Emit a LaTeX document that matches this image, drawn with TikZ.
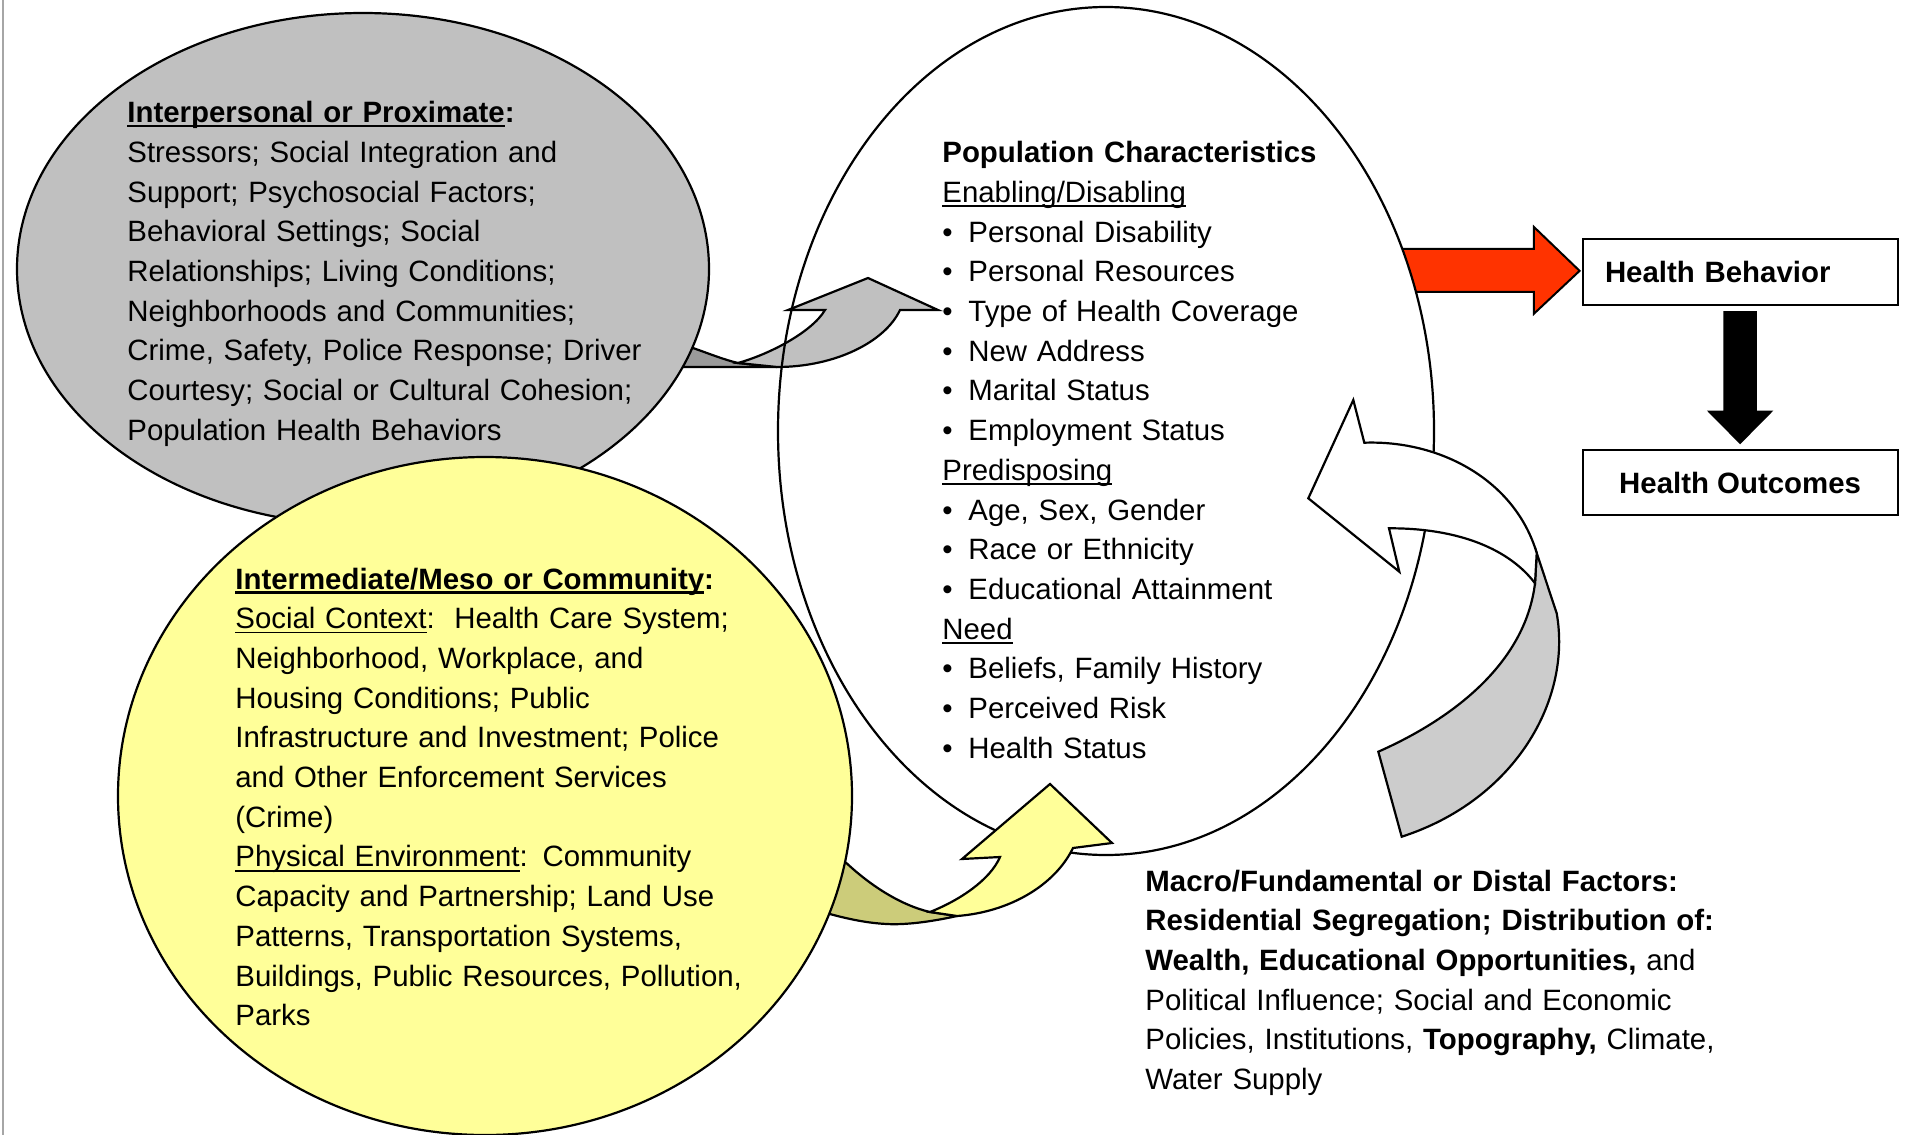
\documentclass[tikz,border=0pt]{standalone}
\usepackage{fontspec}
\setmainfont{Liberation Sans}
\usetikzlibrary{calc}

\definecolor{grayfill}{HTML}{C0C0C0}
\definecolor{grayshade}{HTML}{9A9A9A}
\definecolor{yellowfill}{HTML}{FFFF99}
\definecolor{yellowshade}{HTML}{CCCC7A}
\definecolor{whiteshade}{HTML}{CCCCCC}
\definecolor{arrowred}{HTML}{FF3300}

% underline drawn close to the baseline, through descenders
\newsavebox\ulwordbox
\newcommand\ulword[2][0.8pt]{\leavevmode\sbox\ulwordbox{#2}\rlap{\rule[-2.3pt]{\wd\ulwordbox}{#1}}\usebox\ulwordbox}
\newcommand\bul{\makebox[13pt][l]{•}}

\begin{document}
\begin{tikzpicture}[x=0.5pt,y=-0.5pt,
  outline/.style={draw=black,line width=1.1pt},
  txt/.style={anchor=base west,inner sep=0pt,text width=300pt,align=left,
              font=\fontsize{14.7}{19.85}\selectfont},
  box/.style={draw=black,line width=1pt,inner sep=0pt,
              font=\fontsize{14.7}{17}\selectfont\bfseries},
  blockarrow/.style={draw=black,line width=1pt,line join=miter}]
\useasboundingbox (0,0) rectangle (1917,1135);

% thin frame line on the left
\draw[black!35,line width=0.6pt] (3,0) -- (3,1135);

% boxes on the right
\node[box,minimum width=157.5pt,minimum height=33.25pt,text width=135.1pt,
      inner xsep=11.2pt,align=left] (hb) at (1740.1,271.85) {Health Behavior};
\node[box,minimum width=157.5pt,minimum height=32.5pt] (ho) at (1740.1,482.75) {Health Outcomes};

% red block arrow into Health Behavior (its tail sits behind the ellipse)
\coordinate (rt) at ($(hb.west)+(-2,-1)$);
\draw[blockarrow,fill=arrowred] ($(rt)+(-195,-22)$) -- ($(rt)+(-45.8,-22)$) -- ($(rt)+(-45.8,-44)$)
  -- (rt) -- ($(rt)+(-45.8,43)$) -- ($(rt)+(-45.8,21)$) -- ($(rt)+(-195,21)$) -- cycle;

% black block arrow from behavior to outcomes
\fill[black] ($(hb.south)+(-16.8,5)$) -- ($(hb.south)+(16.8,5)$) -- ($(ho.north)+(16.8,-38.6)$)
  -- ($(ho.north)+(33.2,-38.6)$) -- ($(ho.north)+(0,-5)$) -- ($(ho.north)+(-33.2,-38.6)$)
  -- ($(ho.north)+(-16.8,-38.6)$) -- cycle;

% central ellipse: fill first
\fill[white] (1106,431) ellipse [x radius=164pt, y radius=212pt];

% grey curved arrow (proximate -> population)
\filldraw[outline,fill=grayshade] (640,330) -- (693,348) .. controls (710,354) and (725,360) .. (738,363)
  -- (777,367) -- (640,367) -- cycle;
\filldraw[outline,fill=grayfill] (738,363) .. controls (770,354) and (812,332) .. (825,310)
  -- (788,310) -- (868,278) -- (938,310) -- (900,310)
  .. controls (885,342) and (835,367) .. (777,367) -- cycle;

% central ellipse outline
\draw[outline] (1106,431) ellipse [x radius=164pt, y radius=212pt];

% grey ellipse: interpersonal / proximate
\filldraw[outline,fill=grayfill] (363,269) ellipse [x radius=173pt, y radius=128pt];

% yellow curved arrow (community -> population)
\filldraw[outline,fill=yellowshade] (800,830) -- (846.7,863.3) .. controls (870,885) and (900,905) .. (930,912)
  -- (957,916) .. controls (930,922) and (905,925) .. (887,924)
  .. controls (865,923) and (840,918) .. (800,905) -- cycle;
\filldraw[outline,fill=yellowfill] (930,912) .. controls (960,900) and (990,880) .. (1000,857)
  -- (962,859) -- (1050,784) -- (1112,843) -- (1073,848)
  .. controls (1055,885) and (1010,912) .. (957,916) -- cycle;

% yellow circle: intermediate / community
\filldraw[outline,fill=yellowfill] (485,796) ellipse [x radius=183.5pt, y radius=169.5pt];

% white curved arrow with grey back (macro -> population)
\filldraw[outline,fill=whiteshade] (1536.7,553) -- (1556.7,613.3)
  .. controls (1572,700) and (1515,800) .. (1401.7,836.7) -- (1378.3,751.7)
  .. controls (1450,720) and (1525,665) .. (1535,583.3) -- cycle;
\filldraw[outline,fill=white] (1308.3,498.3) -- (1353.3,400) -- (1364.3,442.7)
  .. controls (1440,440) and (1515,480) .. (1536.7,553) -- (1535,583.3)
  .. controls (1510,550) and (1460,528) .. (1389,528.3) -- (1399.3,571.7) -- cycle;

% texts
\node[txt] (proximate) at (127,122.7) {%
  \ulword[1.3pt]{\textbf{Interpersonal or Proximate}}\textbf{:}\\
  Stressors; Social Integration and\\
  Support; Psychosocial Factors;\\
  Behavioral Settings; Social\\
  Relationships; Living Conditions;\\
  Neighborhoods and Communities;\\
  Crime, Safety, Police Response; Driver\\
  Courtesy; Social or Cultural Cohesion;\\
  Population Health Behaviors};

\node[txt] (population) at (942,162.7) {%
  \textbf{Population Characteristics}\\
  \ulword{Enabling/Disabling}\\
  \bul Personal Disability\\
  \bul Personal Resources\\
  \bul Type of Health Coverage\\
  \bul New Address\\
  \bul Marital Status\\
  \bul Employment Status\\
  \ulword{Predisposing}\\
  \bul Age, Sex, Gender\\
  \bul Race or Ethnicity\\
  \bul Educational Attainment\\
  \ulword{Need}\\
  \bul Beliefs, Family History\\
  \bul Perceived Risk\\
  \bul Health Status};

\node[txt] (community) at (235,589) {%
  \ulword[1.3pt]{\textbf{Intermediate/Meso or Community}}\textbf{:}\\
  \ulword{Social Context}:\ \ Health Care System;\\
  Neighborhood, Workplace, and\\
  Housing Conditions; Public\\
  Infrastructure and Investment; Police\\
  and Other Enforcement Services\\
  (Crime)\\
  \ulword{Physical Environment}: Community\\
  Capacity and Partnership; Land Use\\
  Patterns, Transportation Systems,\\
  Buildings, Public Resources, Pollution,\\
  Parks};

\node[txt] (macro) at (1145,891) {%
  \textbf{Macro/Fundamental or Distal Factors:}\\
  \textbf{Residential Segregation; Distribution of:}\\
  \textbf{Wealth, Educational Opportunities,} and\\
  Political Influence; Social and Economic\\
  Policies, Institutions, \textbf{Topography,} Climate,\\
  Water Supply};
\end{tikzpicture}
\end{document}
